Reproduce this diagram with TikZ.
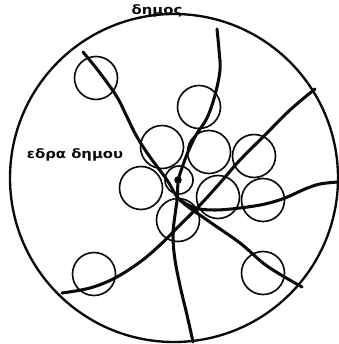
\documentclass[tikz,border=0pt]{standalone}
\usepackage{fontspec}
\usepackage{tikz}
\usetikzlibrary{calc}
\newfontfamily\greekfont{DejaVu Sans}
\definecolor{mapInk}{RGB}{10,10,10}

\tikzset{
  border/.style={mapInk, line width=2pt},
  road/.style={mapInk, line width=2.6pt, line cap=round, smooth, tension=0.6},
  zone/.style={mapInk, line width=1.4pt},
  maplabel/.style={text=mapInk, xscale=1.15, font=\greekfont\bfseries\fontsize{11}{12}\selectfont}
}

\begin{document}
\begin{tikzpicture}[x=0.03cm,y=-0.03cm]
    \useasboundingbox (0,0) rectangle (338,344);

    % municipality boundary
    \draw[border] (174,178) circle (164);
    \node[maplabel] (dimos) at (157,10.5) {δημος};
    \node[maplabel] (edra) at (75,155) {εδρα δημου};

    % roads
    \draw[road] plot coordinates {(83,52) (100,73) (117,97) (127,117) (137,137)
        (150,157) (167,180) (180,200) (207,220) (240,243) (267,266) (302,287)};
    \draw[road] plot coordinates {(217,29) (219,50) (220,70) (215,95) (207,118)
        (196,135) (188,152) (183,165) (178,180)};
    \draw[road] plot coordinates {(178,180) (177,200) (175,215) (173,235)
        (175,260) (181,290) (187,315) (193,342)};
    \draw[road] plot coordinates {(62,293) (90,288) (115,278) (140,262) (160,245)
        (180,225) (200,205) (220,183) (240,160) (265,135) (290,110) (315,89)};
    \draw[road] plot coordinates {(180,200) (195,208) (215,210) (240,208)
        (265,204) (285,198) (305,189) (320,184) (338,182)};

    % service areas
    \foreach \cx/\cy in {96/78, 199/107, 162/147, 209/152, 254/156, 141/188,
                         218/197, 263/200, 178/220, 94/274, 263/273}
        \draw[zone] (\cx,\cy) circle (21.5);
    \draw[zone] (179,180) circle (14);
    \coordinate (seat) at (178,180);
    \fill[mapInk] (seat) circle (3.8);
\end{tikzpicture}
\end{document}
